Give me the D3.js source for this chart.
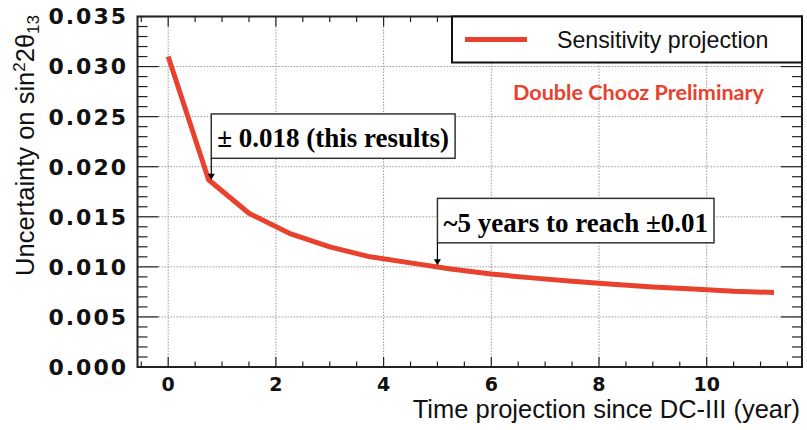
<!DOCTYPE html>
<html>
<head>
<meta charset="utf-8">
<script src="https://cdn.jsdelivr.net/npm/d3@7"></script>
<style>
  body { margin: 0; background: #fff; }
</style>
</head>
<body>
<div id="chart"></div>
<script>
// projection of the sin^2(2 theta13) uncertainty vs time
var years = [0, 0.75, 1.5, 2.25, 3.0, 3.75, 4.5, 5.25, 6.0, 6.75, 7.5, 8.25, 9.0, 9.75, 10.5, 11.25];
var sensitivity = [0.0310, 0.0187, 0.01535, 0.01335, 0.0120, 0.0110, 0.0104, 0.00978, 0.00928,
                   0.0089, 0.00857, 0.00827, 0.0080, 0.0078, 0.00757, 0.00744];

var xTicks = [0, 2, 4, 6, 8, 10];
var yTicks = [0, 0.005, 0.010, 0.015, 0.020, 0.025, 0.030, 0.035];

var legendLabel = "Sensitivity projection";
var watermark = "Double Chooz Preliminary";
var annotations = [
  {text: "\u00B1 0.018 (this results)", x: 0.8, top: 0.02527, bottom: 0.02084, tip: 0.0187},
  {text: "~5 years to reach \u00B10.01", x: 5, top: 0.01684, bottom: 0.0124, tip: 0.01015}
];

function buildChart(){
    var width = 807;
    var height = 430;
    var red = "#e8412e";

    var svg = d3.select("#chart")
        .append("svg")
        .attr("width", width)
        .attr("height", height);

    var x = d3.scaleLinear()
        .domain([-0.57, 11.77])
        .range([137.5, 802]);

    var y = d3.scaleLinear()
        .domain([0, 0.035])
        .range([367, 16.5]);

    var x0 = x.range()[0], x1 = x.range()[1];
    var y0 = y.range()[0], y1 = y.range()[1];

    // dotted grid
    svg.selectAll(".gx")
        .data(xTicks)
        .enter()
        .append("line")
        .attr("x1", d => x(d)).attr("x2", d => x(d))
        .attr("y1", y0).attr("y2", y1)
        .attr("stroke", "#999")
        .attr("stroke-width", 1)
        .attr("stroke-dasharray", "1.5,1.5");

    svg.selectAll(".gy")
        .data(yTicks.slice(1, -1))
        .enter()
        .append("line")
        .attr("x1", x0).attr("x2", x1)
        .attr("y1", d => y(d)).attr("y2", d => y(d))
        .attr("stroke", "#999")
        .attr("stroke-width", 1)
        .attr("stroke-dasharray", "1.5,1.5");

    // ticks inside the frame, on all four sides
    var yMinor = d3.range(0, 36).map(i => i / 1000);
    var xMinor = d3.range(-1, 24).map(i => i / 2);

    var g = svg.append("g").attr("stroke", "#222").attr("stroke-width", 1.2);

    yMinor.forEach(function(v){
        var len = (Math.round(v * 1000) % 5 === 0) ? 21 : 10;
        g.append("line").attr("x1", x0).attr("x2", x0 + len).attr("y1", y(v)).attr("y2", y(v));
        g.append("line").attr("x1", x1).attr("x2", x1 - len).attr("y1", y(v)).attr("y2", y(v));
    });

    xMinor.forEach(function(v){
        var len = (v % 2 === 0) ? 10 : 5.5;
        g.append("line").attr("x1", x(v)).attr("x2", x(v)).attr("y1", y0).attr("y2", y0 - len);
        g.append("line").attr("x1", x(v)).attr("x2", x(v)).attr("y1", y1).attr("y2", y1 + len);
    });

    // frame
    svg.append("rect")
        .attr("x", x0).attr("y", y1)
        .attr("width", x1 - x0).attr("height", y0 - y1)
        .attr("fill", "none")
        .attr("stroke", "#222")
        .attr("stroke-width", 2);

    // tick labels
    svg.selectAll(".ylab")
        .data(yTicks)
        .enter()
        .append("text")
        .attr("x", 128)
        .attr("y", d => y(d))
        .attr("dy", "0.36em")
        .attr("text-anchor", "end")
        .attr("font-family", "DejaVu Sans")
        .attr("font-weight", "bold")
        .attr("font-size", 22)
        .attr("letter-spacing", 2)
        .attr("fill", "#111")
        .text(d => d3.format(".3f")(d));

    svg.selectAll(".xlab")
        .data(xTicks)
        .enter()
        .append("text")
        .attr("x", d => x(d))
        .attr("y", 391)
        .attr("text-anchor", "middle")
        .attr("font-family", "DejaVu Sans")
        .attr("font-weight", "bold")
        .attr("font-size", 19)
        .attr("fill", "#111")
        .text(d => d);

    // axis titles
    svg.append("text")
        .attr("x", 800)
        .attr("y", 418)
        .attr("text-anchor", "end")
        .attr("font-family", "Liberation Sans")
        .attr("font-size", 25.5)
        .attr("fill", "#111")
        .text("Time projection since DC-III (year)");

    var yt = svg.append("text")
        .attr("transform", "translate(34,15) rotate(-90)")
        .attr("text-anchor", "end")
        .attr("font-family", "Liberation Sans")
        .attr("font-size", 25.5)
        .attr("fill", "#111");
    yt.append("tspan").text("Uncertainty on sin");
    yt.append("tspan").attr("font-size", 17).attr("dy", -9).text("2");
    yt.append("tspan").attr("dy", 9).text("2\u03B8");
    yt.append("tspan").attr("font-size", 17).attr("dy", 5).text("13");

    // curve
    var line = d3.line()
        .x((d, i) => x(years[i]))
        .y(d => y(d));

    svg.append("path")
        .datum(sensitivity)
        .attr("d", line)
        .attr("fill", "none")
        .attr("stroke", red)
        .attr("stroke-width", 5)
        .attr("stroke-linejoin", "round");

    // legend
    svg.append("rect")
        .attr("x", 452).attr("y", y1)
        .attr("width", x1 - 452).attr("height", 46)
        .attr("fill", "#fff")
        .attr("stroke", "#111")
        .attr("stroke-width", 2);
    svg.append("line")
        .attr("x1", 465).attr("x2", 527)
        .attr("y1", 39.5).attr("y2", 39.5)
        .attr("stroke", red)
        .attr("stroke-width", 5);
    svg.append("text")
        .attr("x", 557).attr("y", 47.5)
        .attr("font-family", "Liberation Sans")
        .attr("font-size", 23.2)
        .attr("fill", "#111")
        .text(legendLabel);

    svg.append("text")
        .attr("x", 513).attr("y", 100)
        .attr("font-family", "Lato")
        .attr("font-weight", "bold")
        .attr("font-size", 21.6)
        .attr("fill", red)
        .text(watermark);

    // annotation boxes with arrows
    annotations.forEach(function(a){
        var t = svg.append("text")
            .attr("x", x(a.x) + 6)
            .attr("y", y(a.bottom) - 11)
            .attr("font-family", "Liberation Serif")
            .attr("font-weight", "bold")
            .attr("font-size", 27)
            .attr("fill", "#000")
            .text(a.text);
        var w = t.node().getComputedTextLength();
        svg.insert("rect", function(){ return t.node(); })
            .attr("x", x(a.x)).attr("y", y(a.top))
            .attr("width", w + 12).attr("height", y(a.bottom) - y(a.top))
            .attr("fill", "#fff")
            .attr("stroke", "#333")
            .attr("stroke-width", 1.5);
        svg.append("line")
            .attr("x1", x(a.x)).attr("x2", x(a.x))
            .attr("y1", y(a.bottom)).attr("y2", y(a.tip) - 5)
            .attr("stroke", "#000")
            .attr("stroke-width", 1.2);
        svg.append("path")
            .attr("d", d3.line()([[x(a.x) - 3.5, y(a.tip) - 6], [x(a.x) + 3.5, y(a.tip) - 6], [x(a.x), y(a.tip)]]) + "Z")
            .attr("fill", "#000");
    });
}

buildChart();
</script>
</body>
</html>
